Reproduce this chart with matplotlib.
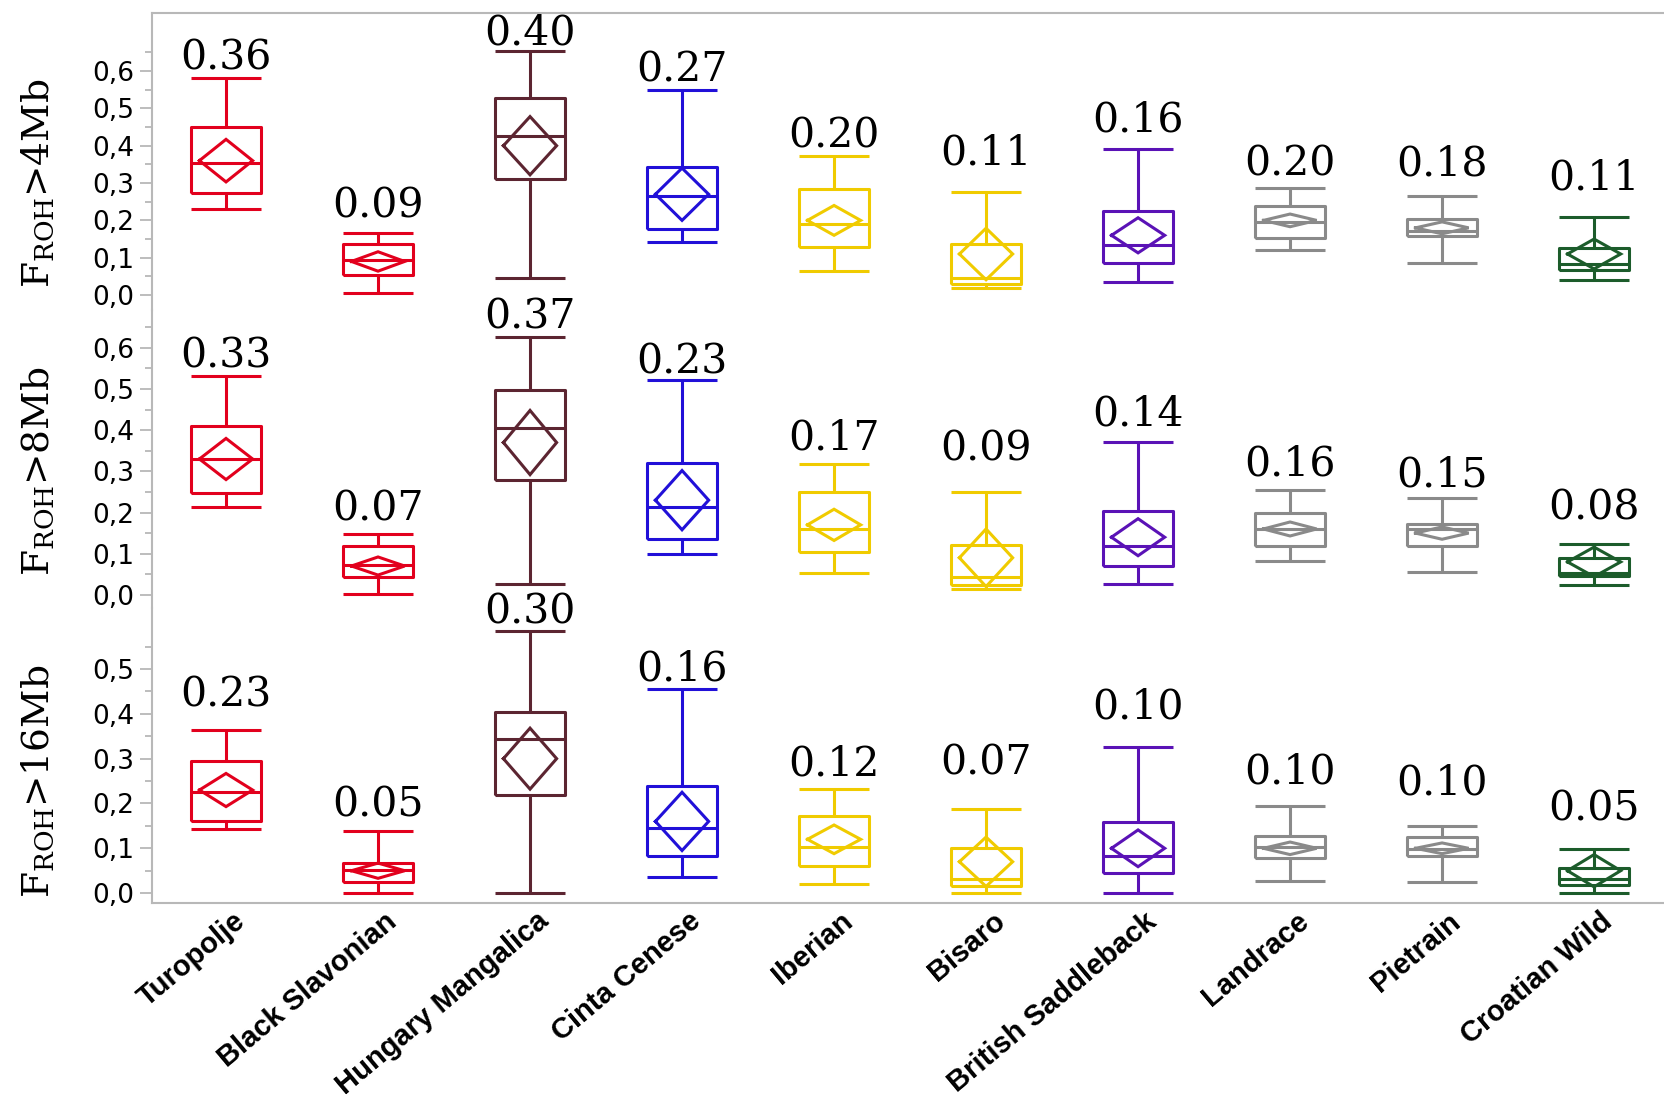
import matplotlib
matplotlib.use("Agg")
import matplotlib.pyplot as plt
from matplotlib.transforms import blended_transform_factory, ScaledTranslation

plt.rcParams["mathtext.fontset"] = "dejavuserif"

# ---------------------------------------------------------------- data
breeds = ["Turopolje", "Black Slavonian", "Hungary Mangalica", "Cinta Cenese",
          "Iberian", "Bisaro", "British Saddleback", "Landrace", "Pietrain",
          "Croatian Wild"]

# F_ROH > 4 Mb
lo_4 = [0.230, 0.005, 0.045, 0.142, 0.065, 0.018, 0.036, 0.122, 0.085, 0.041]
q1_4 = [0.273, 0.053, 0.312, 0.177, 0.130, 0.030, 0.086, 0.153, 0.159, 0.068]
med_4 = [0.355, 0.094, 0.426, 0.266, 0.191, 0.047, 0.135, 0.197, 0.172, 0.083]
q3_4 = [0.449, 0.136, 0.529, 0.344, 0.283, 0.136, 0.226, 0.239, 0.204, 0.126]
hi_4 = [0.582, 0.167, 0.654, 0.550, 0.373, 0.275, 0.392, 0.288, 0.266, 0.210]
mean_4 = [0.36, 0.09, 0.40, 0.27, 0.20, 0.11, 0.16, 0.20, 0.18, 0.11]
ci_4 = [0.057, 0.026, 0.078, 0.070, 0.040, 0.069, 0.047, 0.017, 0.016, 0.040]

# F_ROH > 8 Mb
lo_8 = [0.213, 0.002, 0.027, 0.100, 0.053, 0.013, 0.027, 0.082, 0.056, 0.024]
q1_8 = [0.247, 0.044, 0.279, 0.135, 0.104, 0.025, 0.071, 0.118, 0.118, 0.045]
med_8 = [0.331, 0.072, 0.406, 0.213, 0.160, 0.044, 0.118, 0.160, 0.160, 0.053]
q3_8 = [0.410, 0.119, 0.498, 0.320, 0.251, 0.120, 0.203, 0.200, 0.172, 0.090]
hi_8 = [0.531, 0.148, 0.627, 0.521, 0.319, 0.250, 0.371, 0.254, 0.236, 0.123]
mean_8 = [0.33, 0.07, 0.37, 0.23, 0.17, 0.09, 0.14, 0.16, 0.15, 0.08]
ci_8 = [0.050, 0.022, 0.078, 0.072, 0.038, 0.070, 0.045, 0.017, 0.015, 0.036]

# F_ROH > 16 Mb
lo_16 = [0.143, 0.000, 0.000, 0.037, 0.021, 0.000, 0.000, 0.026, 0.024, 0.000]
q1_16 = [0.162, 0.024, 0.220, 0.082, 0.061, 0.015, 0.045, 0.078, 0.082, 0.019]
med_16 = [0.226, 0.052, 0.343, 0.145, 0.104, 0.031, 0.082, 0.103, 0.098, 0.031]
q3_16 = [0.295, 0.067, 0.403, 0.239, 0.171, 0.100, 0.158, 0.128, 0.126, 0.057]
hi_16 = [0.364, 0.139, 0.585, 0.455, 0.232, 0.188, 0.327, 0.195, 0.149, 0.098]
mean_16 = [0.23, 0.05, 0.30, 0.16, 0.12, 0.07, 0.10, 0.10, 0.10, 0.05]
ci_16 = [0.037, 0.017, 0.068, 0.065, 0.032, 0.055, 0.041, 0.014, 0.012, 0.036]

panels = [
    dict(label=r"F$_{\mathregular{ROH}}$>4Mb", lo=lo_4, q1=q1_4, med=med_4,
         q3=q3_4, hi=hi_4, mean=mean_4, ci=ci_4),
    dict(label=r"F$_{\mathregular{ROH}}$>8Mb", lo=lo_8, q1=q1_8, med=med_8,
         q3=q3_8, hi=hi_8, mean=mean_8, ci=ci_8),
    dict(label=r"F$_{\mathregular{ROH}}$>16Mb", lo=lo_16, q1=q1_16, med=med_16,
         q3=q3_16, hi=hi_16, mean=mean_16, ci=ci_16),
]

# ---------------------------------------------------------------- style
colors = ["#e2001d", "#e2001d", "#5c2531", "#2110d8", "#f0cb00", "#f0cb00",
          "#5a12b6", "#8a8a8a", "#8a8a8a", "#1c5c2b"]
LW = 2.2
BOX_W = 0.46
DIAMOND_W = 0.35
FRAME = "#b8b8b8"

# gap (pixels) between the upper whisker cap and the baseline of each mean label
label_gap = [
    [8, 15, 6, 8, 8, 28, 17, 12, 20, 27],
    [9, 13, 8, 7, 14, 31, 17, 15, 11, 25],
    [23, 14, 7, 9, 14, 34, 28, 22, 32, 29],
]

W, H = 1664, 1098
fig = plt.figure(figsize=(W / 100, H / 100), dpi=100)

# vertical layout of the three stacked panels (pixel rows) and y ranges
rows = [(13, 310), (310, 608), (608, 903)]
ylims = [(-0.040, 0.7554), (-0.032, 0.692), (-0.022, 0.636)]
major = [[0.0, 0.1, 0.2, 0.3, 0.4, 0.5, 0.6],
         [0.0, 0.1, 0.2, 0.3, 0.4, 0.5, 0.6],
         [0.0, 0.1, 0.2, 0.3, 0.4, 0.5]]
minor = [[0.05, 0.15, 0.25, 0.35, 0.45, 0.55, 0.65],
         [0.05, 0.15, 0.25, 0.35, 0.45, 0.55, 0.65],
         [0.05, 0.15, 0.25, 0.35, 0.45, 0.55]]
label_mid = [0.3, 0.3, 0.25]

left_px = 152
axes = []
for k, (top, bot) in enumerate(rows):
    ax = fig.add_axes([left_px / W, 1 - bot / H, 1 - left_px / W, (bot - top) / H])
    axes.append(ax)
    p = panels[k]
    for i in range(len(breeds)):
        c = colors[i]
        stat = dict(whislo=p["lo"][i], q1=p["q1"][i], med=p["med"][i],
                    q3=p["q3"][i], whishi=p["hi"][i], fliers=[])
        line = dict(color=c, linewidth=LW, solid_capstyle="butt")
        ax.bxp([stat], positions=[i], widths=BOX_W, capwidths=BOX_W,
               showfliers=False, boxprops=line, whiskerprops=line,
               capprops=line, medianprops=line, manage_ticks=False)
        m, h = p["mean"][i], p["ci"][i]
        ax.plot([i - DIAMOND_W / 2, i, i + DIAMOND_W / 2, i, i - DIAMOND_W / 2],
                [m, m + h, m, m - h, m], color=c, linewidth=LW,
                solid_joinstyle="miter")
        ax.annotate(f"{m:.2f}", xy=(i, p["hi"][i]),
                    xytext=(0, label_gap[k][i] * 0.72),
                    textcoords="offset points", ha="center", va="baseline",
                    fontsize=29.5, family="DejaVu Serif", color="black",
                    annotation_clip=False)

    ax.set_xlim(-0.487, 9.46)
    ax.set_ylim(*ylims[k])
    ax.set_yticks(major[k])
    ax.set_yticklabels([f"{t:.1f}".replace(".", ",") for t in major[k]],
                       fontsize=19, family="DejaVu Sans")
    ax.set_yticks(minor[k], minor=True)
    ax.tick_params(axis="y", which="major", length=9, width=1.3, color=FRAME, pad=4)
    ax.tick_params(axis="y", which="minor", length=5, width=1.3, color=FRAME)

    for side in ("top", "right", "bottom", "left"):
        ax.spines[side].set_visible(False)
    ax.spines["left"].set_visible(True)
    ax.spines["left"].set_color(FRAME)
    ax.spines["left"].set_linewidth(1.5)
    if k == 0:
        ax.spines["top"].set_visible(True)
        ax.spines["top"].set_color(FRAME)
        ax.spines["top"].set_linewidth(1.5)
    if k == 2:
        ax.spines["bottom"].set_visible(True)
        ax.spines["bottom"].set_color(FRAME)
        ax.spines["bottom"].set_linewidth(1.5)
        ax.set_xticks(range(len(breeds)))
        ax.set_xticklabels(breeds, rotation=40, ha="right", rotation_mode="anchor",
                           fontsize=21, fontweight="bold", family="Liberation Sans")
        ax.tick_params(axis="x", length=0, pad=0)
        shift = ScaledTranslation(6 / 100, -4 / 100, fig.dpi_scale_trans)
        for t in ax.get_xticklabels():
            t.set_transform(t.get_transform() + shift)
    else:
        ax.tick_params(axis="x", bottom=False, labelbottom=False)

    ax.set_ylabel(p["label"], fontsize=27, family="DejaVu Serif")
    ax.yaxis.set_label_coords((57 - left_px) / (W - left_px), label_mid[k],
                              transform=blended_transform_factory(ax.transAxes, ax.transData))
    ax.patch.set_alpha(0)

fig.savefig("out.png", dpi=100, facecolor="white")
